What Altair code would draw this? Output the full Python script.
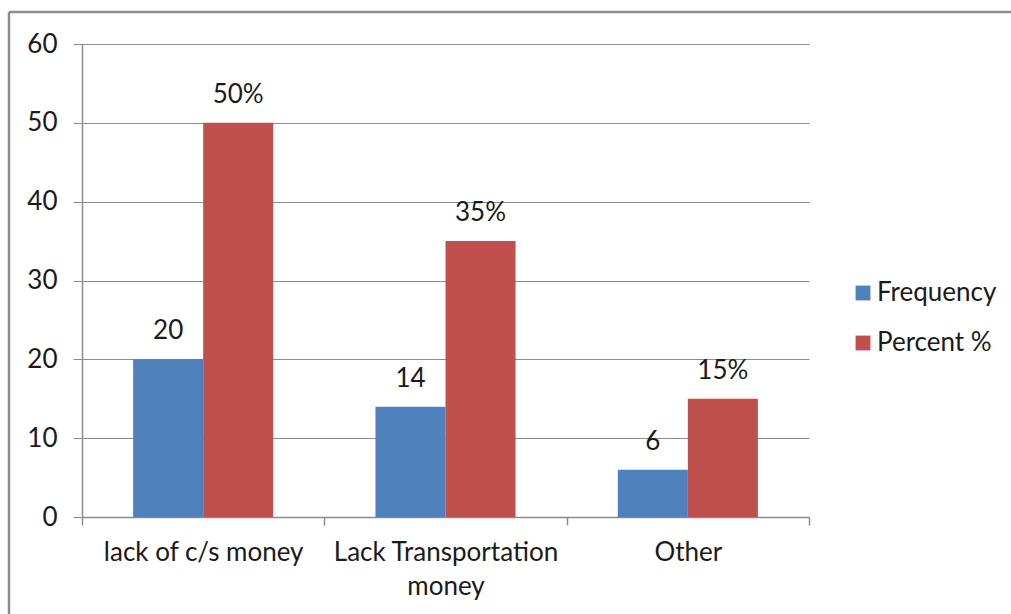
import altair as alt
import pandas as pd

categories = ["lack of c/s money", "Lack Transportation money", "Other"]
series = ["Frequency", "Percent %"]
frequency = [20, 14, 6]
percent = [50, 35, 15]
colors = ["#4F81BD", "#C0504D"]

rows = []
for i, c in enumerate(categories):
    rows.append({"cat": c, "series": series[0], "value": frequency[i], "label": str(frequency[i])})
    rows.append({"cat": c, "series": series[1], "value": percent[i], "label": f"{percent[i]}%"})
df = pd.DataFrame(rows)

FONT = "Lato"
FS = 26
TXT = "#1a1a1a"
AX = "#8c8c8c"

x = alt.X(
    "cat:N",
    sort=categories,
    title=None,
    scale=alt.Scale(paddingInner=0, paddingOuter=0),
    axis=alt.Axis(
        labelAngle=0,
        tickBand="extent",
        tickSize=8,
        labelPadding=14,
        labelFont=FONT,
        labelFontSize=FS,
        labelColor=TXT,
        labelLineHeight=34,
        labelLimit=0,
        domainColor=AX,
        tickColor=AX,
        domainWidth=1.5,
        tickWidth=1.5,
        labelExpr="datum.value == 'Lack Transportation money' ? ['Lack Transportation', 'money'] : datum.label",
    ),
)
xo = alt.XOffset("series:N", sort=series, scale=alt.Scale(paddingInner=0, paddingOuter=0.73))
y = alt.Y(
    "value:Q",
    title=None,
    scale=alt.Scale(domain=[0, 60], nice=False),
    axis=alt.Axis(
        values=[0, 10, 20, 30, 40, 50, 60],
        tickSize=9,
        labelPadding=16,
        labelFont=FONT,
        labelFontSize=FS,
        labelColor=TXT,
        gridColor=AX,
        gridWidth=1.2,
        domainColor=AX,
        tickColor=AX,
        domainWidth=1.5,
    ),
)
color = alt.Color(
    "series:N",
    scale=alt.Scale(domain=series, range=colors),
    legend=alt.Legend(
        title=None,
        orient="none",
        legendX=768,
        legendY=236,
        padding=0,
        symbolType="square",
        symbolSize=220,
        symbolStrokeWidth=0,
        labelFont=FONT,
        labelFontSize=FS,
        labelColor=TXT,
        rowPadding=24,
        labelOffset=1,
    ),
)

base = alt.Chart(df)
bars = base.mark_bar().encode(x=x, xOffset=xo, y=y, color=color)
text = base.mark_text(baseline="bottom", dy=-15, font=FONT, fontSize=FS, color=TXT).encode(
    x=x, xOffset=xo, y=y, text="label:N"
)

one = pd.DataFrame({"a": [0]})
left_border = alt.Chart(one).mark_rule(color=AX, strokeWidth=2.5).encode(
    x=alt.value(-73), y=alt.value(-32), y2=alt.value(600)
)
top_border = alt.Chart(one).mark_rule(color=AX, strokeWidth=2.5).encode(
    x=alt.value(-73), x2=alt.value(960), y=alt.value(-32)
)

chart = (
    alt.layer(bars, text, left_border, top_border)
    .properties(
        width=727,
        height=473,
        autosize=alt.AutoSizeParams(type="none"),
        padding={"left": 82, "top": 44, "right": 202, "bottom": 97},
        background="white",
    )
    .configure_view(stroke=None)
)

chart.save("out.html", embed_options={"renderer": "svg", "actions": False})
